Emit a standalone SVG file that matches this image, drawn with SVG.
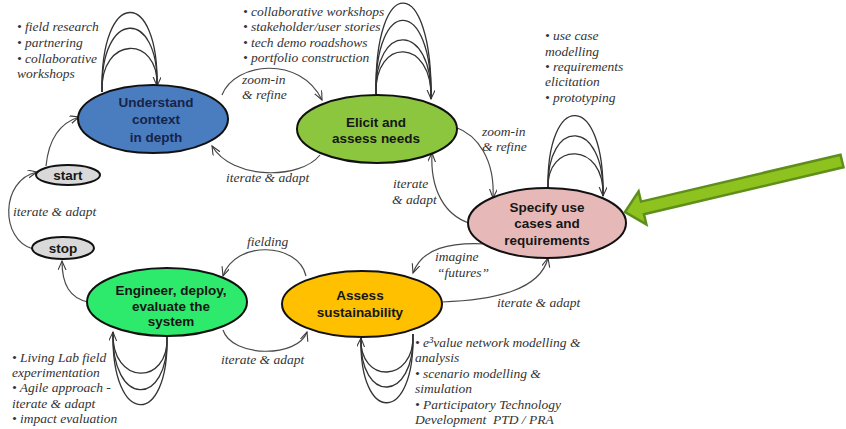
<svg xmlns="http://www.w3.org/2000/svg" width="846" height="429" viewBox="0 0 846 429">
  <defs>
    <marker id="arrow" markerUnits="userSpaceOnUse" markerWidth="12" markerHeight="10" refX="9" refY="4" orient="auto">
      <path d="M0,0 L9,4 L0,8" fill="none" stroke="#3a3a3a" stroke-width="1.1"/>
    </marker>
    <style>
      .node ellipse { stroke: #111; stroke-width: 2; }
      .node text { font-family: "Liberation Sans", Arial, sans-serif; font-weight: bold; font-size: 13.5px; text-anchor: middle; fill: #161616; }
      .conn { fill: none; stroke: #4a4a4a; stroke-width: 1.2; }
      .loop { fill: none; stroke: #333; stroke-width: 1.3; }
      .lbl { font-family: "Liberation Serif", "Times New Roman", serif; font-style: italic; font-size: 13.5px; fill: #333; }
    </style>
  </defs>

  <rect width="846" height="429" fill="#fff"/>

  <!-- connectors -->
  <g id="connectors">
    <path class="conn" marker-end="url(#arrow)" d="M46,166 Q50,126 79,117"/>
    <path class="conn" marker-end="url(#arrow)" d="M33,249 C0,240 0,180 37,172"/>
    <path class="conn" marker-end="url(#arrow)" d="M88,302 C70,298 62,285 62,261"/>
    <path class="conn" marker-end="url(#arrow)" d="M222,95 C235,62 300,55 322,100"/>
    <path class="conn" marker-end="url(#arrow)" d="M320,155 C300,180 232,180 212,146"/>
    <path class="conn" marker-end="url(#arrow)" d="M455,127 C478,135 495,160 493,198"/>
    <path class="conn" marker-end="url(#arrow)" d="M469,223 C445,215 430,190 432,153"/>
    <path class="conn" marker-end="url(#arrow)" d="M487,244 C450,242 422,248 413,273"/>
    <path class="conn" marker-end="url(#arrow)" d="M442,302 C495,300 540,290 548,258"/>
    <path class="conn" marker-end="url(#arrow)" d="M306,276 C298,242 235,240 223,276"/>
    <path class="conn" marker-end="url(#arrow)" d="M223,330 C232,358 298,358 307,332"/>

    <!-- self loops: Understand -->
    <path class="loop" marker-end="url(#arrow)" d="M102,92 C100,-13 159,-13 157,86"/>
    <path class="loop" d="M102,92 C100,8 159,8 157,86"/>
    <path class="loop" d="M102,92 C100,35 159,35 157,86"/>
    <!-- self loops: Elicit -->
    <path class="loop" marker-end="url(#arrow)" d="M376,94 C374,-28 433,-28 431,99"/>
    <path class="loop" d="M376,94 C374,-5 433,-5 431,99"/>
    <path class="loop" d="M376,94 C374,21 433,21 431,99"/>
    <path class="loop" d="M376,94 C374,37 433,37 431,99"/>
    <!-- self loops: Specify -->
    <path class="loop" marker-end="url(#arrow)" d="M548,189 C546,90 605,90 603,196"/>
    <path class="loop" d="M548,189 C546,117 605,117 603,196"/>
    <path class="loop" d="M548,189 C546,141 605,141 603,196"/>
    <!-- self loops: Engineer -->
    <path class="loop" marker-end="url(#arrow)" d="M167,337 C169,386 111,386 113,332"/>
    <path class="loop" d="M167,337 C169,408 111,408 113,332"/>
    <path class="loop" d="M167,337 C169,428 111,428 113,332"/>
    <!-- self loops: Assess -->
    <path class="loop" marker-end="url(#arrow)" d="M413,334 C415,384 359,384 361,338"/>
    <path class="loop" d="M413,334 C415,404 359,404 361,338"/>
    <path class="loop" d="M413,334 C415,425 359,425 361,338"/>
  </g>

  <!-- connector labels -->
  <g id="connector-labels" class="lbl">
    <text x="242" y="84">zoom-in</text>
    <text x="242" y="99">&amp; refine</text>
    <text x="226" y="182">iterate &amp; adapt</text>
    <text x="482" y="136">zoom-in</text>
    <text x="482" y="151">&amp; refine</text>
    <text x="393" y="188">iterate</text>
    <text x="392" y="204">&amp; adapt</text>
    <text x="435" y="261">imagine</text>
    <text x="437" y="277">“futures”</text>
    <text x="497" y="307">iterate &amp; adapt</text>
    <text x="247" y="246">fielding</text>
    <text x="221" y="364">iterate &amp; adapt</text>
    <text x="13" y="216">iterate &amp; adapt</text>
  </g>

  <!-- nodes -->
  <g id="start" class="node">
    <ellipse cx="68" cy="175" rx="32" ry="10" fill="#d9d9d9"/>
    <text x="68" y="180">start</text>
  </g>
  <g id="stop" class="node">
    <ellipse cx="63" cy="248" rx="31" ry="11" fill="#d9d9d9"/>
    <text x="63" y="253">stop</text>
  </g>
  <g id="understand" class="node">
    <ellipse cx="153" cy="119" rx="75" ry="34" fill="#4a7cc0"/>
    <text x="156" y="107" style="fill:#16244a">Understand</text>
    <text x="156" y="124" style="fill:#16244a">context</text>
    <text x="156" y="142" style="fill:#16244a">in depth</text>
  </g>
  <g id="elicit" class="node">
    <ellipse cx="377" cy="129" rx="80" ry="34" fill="#8cc63f"/>
    <text x="376" y="127">Elicit and</text>
    <text x="376" y="143">assess needs</text>
  </g>
  <g id="specify" class="node">
    <ellipse cx="547" cy="223" rx="79" ry="35" fill="#e6b9b8"/>
    <text x="547" y="212">Specify use</text>
    <text x="547" y="228">cases and</text>
    <text x="547" y="245">requirements</text>
  </g>
  <g id="assess" class="node">
    <ellipse cx="362" cy="304" rx="80" ry="33" fill="#ffc000"/>
    <text x="360" y="300">Assess</text>
    <text x="360" y="317">sustainability</text>
  </g>
  <g id="engineer" class="node">
    <ellipse cx="167" cy="302" rx="80" ry="34" fill="#2eea6c"/>
    <text x="171" y="295">Engineer, deploy,</text>
    <text x="171" y="310.5">evaluate the</text>
    <text x="171" y="326">system</text>
  </g>

  <!-- activity lists -->
  <g id="notes-understand" class="lbl">
    <text x="17" y="31">• field research</text>
    <text x="17" y="47">• partnering</text>
    <text x="17" y="63">• collaborative</text>
    <text x="17" y="78">workshops</text>
  </g>
  <g id="notes-elicit" class="lbl">
    <text x="243" y="16">• collaborative workshops</text>
    <text x="243" y="31">• stakeholder/user stories</text>
    <text x="243" y="47">• tech demo roadshows</text>
    <text x="243" y="62">• portfolio construction</text>
  </g>
  <g id="notes-specify" class="lbl">
    <text x="545" y="40">• use case</text>
    <text x="545" y="56">modelling</text>
    <text x="545" y="71">• requirements</text>
    <text x="545" y="86">elicitation</text>
    <text x="545" y="102">• prototyping</text>
  </g>
  <g id="notes-engineer" class="lbl">
    <text x="12" y="362">• Living Lab field</text>
    <text x="12" y="377">experimentation</text>
    <text x="12" y="392">• Agile approach -</text>
    <text x="12" y="408">iterate &amp; adapt</text>
    <text x="12" y="423">• impact evaluation</text>
  </g>
  <g id="notes-assess" class="lbl">
    <text x="415" y="347">• e³value network modelling &amp;</text>
    <text x="415" y="362">analysis</text>
    <text x="415" y="378">• scenario modelling &amp;</text>
    <text x="415" y="393">simulation</text>
    <text x="415" y="409">• Participatory Technology</text>
    <text x="415" y="424" xml:space="preserve">Development  PTD / PRA</text>
  </g>

  <!-- highlight arrow -->
  <g id="highlight-arrow">
    <polygon points="625,212 638.6,191.4 641,201.6 840.5,154.7 843.5,167.3 644,214.2 646.4,224.4" fill="#8dc21f" stroke="#5f8f1a" stroke-width="2.5" stroke-linejoin="miter"/>
  </g>
</svg>
